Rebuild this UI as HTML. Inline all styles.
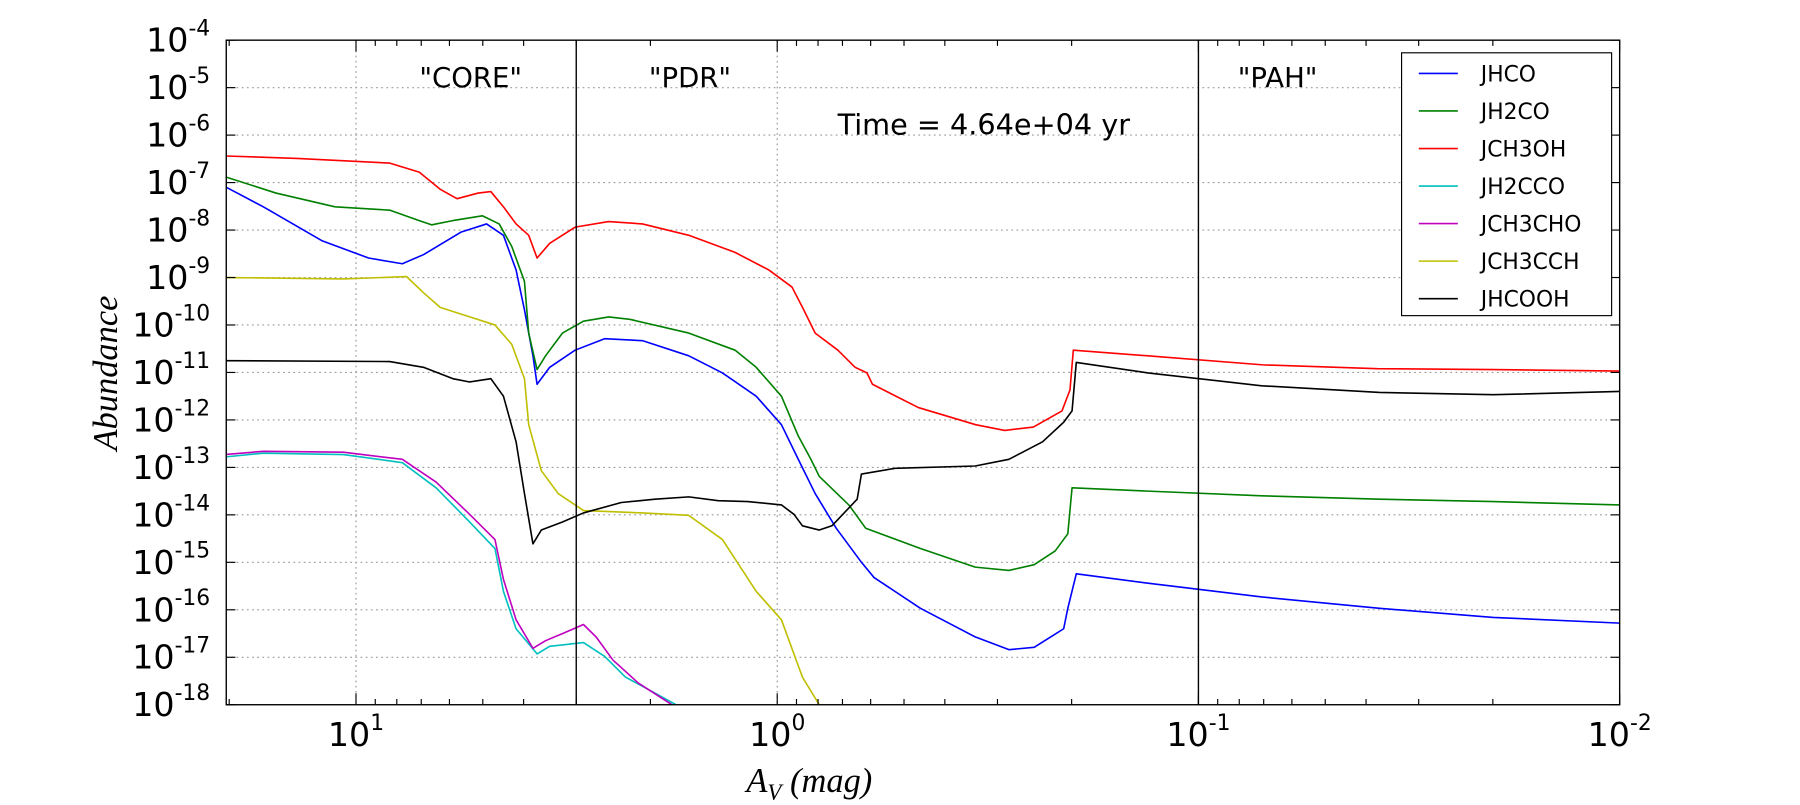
<!DOCTYPE html>
<html><head><meta charset="utf-8"><style>
body{margin:0;background:#fff;width:1800px;height:800px;overflow:hidden}
svg text{font-family:"DejaVu Sans","Liberation Sans",sans-serif}
</style></head><body>
<svg id="chart" width="1800" height="800" viewBox="0 0 1568 697" xmlns="http://www.w3.org/2000/svg">
<defs><clipPath id="clip"><rect x="197" y="35" width="1214" height="579"/></clipPath></defs>
<g id="grid"></g>
<g id="series" clip-path="url(#clip)"></g>
<g id="axes"></g>
<text x="410" y="76" font-size="24" text-anchor="middle">"CORE"</text>
<text x="601" y="76" font-size="24" text-anchor="middle">"PDR"</text>
<text x="1113" y="76" font-size="24" text-anchor="middle">"PAH"</text>
<text x="857" y="117" font-size="25" text-anchor="middle">Time = 4.64e+04 yr</text>
<text x="705" y="690" font-size="30" text-anchor="middle" style="font-family:'Liberation Serif',serif;font-style:italic">A<tspan font-size="20" dy="7">V</tspan><tspan dy="-7"> (mag)</tspan></text>
<text transform="translate(102,325) rotate(-90)" font-size="30" text-anchor="middle" style="font-family:'Liberation Serif',serif;font-style:italic">Abundance</text>
<g id="legend"></g>
</svg>
<script>
const seriesNames=["JHCO","JH2CO","JCH3OH","JH2CCO","JCH3CHO","JCH3CCH","JHCOOH"];
const seriesColors=["#0000ff","#008000","#ff0000","#00bfbf","#bf00bf","#bfbf00","#000000"];
const yTickExps=[-4,-5,-6,-7,-8,-9,-10,-11,-12,-13,-14,-15,-16,-17,-18];
const xTickExps=[1,0,-1,-2];
const regionBoundaries=[3,0.1];
// data stored as log10(A_V) and log10(abundance)
const hcoX=[1.31,1.22,1.08,0.97,0.89,0.84,0.75,0.69,0.65,0.62,0.60,0.58,0.57,0.54,0.48,0.41,0.32,0.21,0.13,0.05,-0.01,-0.05,-0.09,-0.14,-0.20,-0.23,-0.34,-0.47,-0.55,-0.61,-0.68,-0.69,-0.71,-0.88,-1.15,-1.43,-1.70,-2.0];
const hcoY=[-7.09,-7.51,-8.23,-8.59,-8.71,-8.52,-8.04,-7.87,-8.11,-8.84,-9.68,-10.65,-11.25,-10.89,-10.53,-10.29,-10.33,-10.65,-11.01,-11.50,-12.10,-12.83,-13.55,-14.28,-15.00,-15.32,-15.97,-16.57,-16.84,-16.79,-16.40,-15.97,-15.24,-15.44,-15.73,-15.97,-16.16,-16.28];
const h2coX=[1.31,1.19,1.05,0.92,0.85,0.82,0.77,0.70,0.66,0.63,0.60,0.59,0.57,0.55,0.51,0.46,0.40,0.35,0.21,0.10,0.05,-0.01,-0.05,-0.08,-0.10,-0.17,-0.21,-0.34,-0.47,-0.55,-0.61,-0.66,-0.69,-0.70,-0.88,-1.15,-1.43,-1.70,-2.0];
const h2coY=[-6.88,-7.22,-7.51,-7.58,-7.80,-7.89,-7.80,-7.70,-7.87,-8.35,-9.08,-10.17,-10.94,-10.65,-10.17,-9.92,-9.83,-9.88,-10.17,-10.53,-10.89,-11.50,-12.34,-12.83,-13.19,-13.79,-14.28,-14.71,-15.10,-15.17,-15.05,-14.76,-14.40,-13.43,-13.50,-13.60,-13.67,-13.72,-13.79];
const ch3ohX=[1.31,1.14,0.92,0.85,0.80,0.76,0.71,0.68,0.65,0.62,0.59,0.57,0.54,0.48,0.40,0.32,0.21,0.10,0.02,-0.035,-0.063,-0.09,-0.144,-0.185,-0.213,-0.226,-0.335,-0.471,-0.54,-0.608,-0.676,-0.695,-0.703,-0.88,-1.153,-1.425,-1.698,-2.0];
const ch3ohY=[-6.44,-6.49,-6.59,-6.78,-7.14,-7.34,-7.22,-7.19,-7.51,-7.87,-8.11,-8.59,-8.28,-7.94,-7.82,-7.87,-8.11,-8.47,-8.84,-9.20,-9.68,-10.17,-10.53,-10.89,-11.01,-11.25,-11.74,-12.10,-12.22,-12.15,-11.81,-11.37,-10.53,-10.65,-10.84,-10.92,-10.94,-10.97];
const h2ccoX=[1.31,1.22,1.03,0.89,0.81,0.73,0.67,0.65,0.62,0.57,0.54,0.46,0.41,0.36,0.32,0.24];
const h2ccoY=[-12.78,-12.70,-12.73,-12.90,-13.43,-14.15,-14.71,-15.61,-16.40,-16.93,-16.77,-16.69,-16.98,-17.42,-17.61,-18.0];
const ch3choX=[1.31,1.22,1.03,0.89,0.81,0.73,0.67,0.65,0.62,0.58,0.55,0.51,0.46,0.43,0.39,0.33,0.25];
const ch3choY=[-12.73,-12.66,-12.68,-12.83,-13.31,-13.99,-14.52,-15.36,-16.21,-16.81,-16.65,-16.50,-16.31,-16.57,-17.06,-17.54,-18.0];
const ch3cchX=[1.31,1.03,0.88,0.84,0.80,0.73,0.67,0.63,0.60,0.59,0.56,0.52,0.46,0.37,0.32,0.21,0.13,0.05,-0.01,-0.06,-0.10];
const ch3cchY=[-9.00,-9.03,-8.98,-9.32,-9.63,-9.83,-10.00,-10.41,-11.13,-12.10,-13.07,-13.55,-13.91,-13.94,-13.96,-14.01,-14.52,-15.61,-16.21,-17.42,-18.0];
const hcoohX=[1.31,0.92,0.84,0.77,0.73,0.68,0.65,0.62,0.60,0.58,0.56,0.51,0.46,0.37,0.29,0.21,0.14,0.07,-0.01,-0.04,-0.06,-0.10,-0.13,-0.19,-0.20,-0.28,-0.47,-0.55,-0.63,-0.68,-0.70,-0.71,-0.88,-1.15,-1.43,-1.70,-2.0];
const hcoohY=[-10.75,-10.77,-10.89,-11.13,-11.20,-11.13,-11.50,-12.46,-13.55,-14.61,-14.32,-14.15,-13.96,-13.74,-13.67,-13.62,-13.70,-13.72,-13.79,-13.99,-14.23,-14.32,-14.23,-13.67,-13.14,-13.02,-12.97,-12.83,-12.46,-12.05,-11.81,-10.79,-11.01,-11.28,-11.42,-11.47,-11.40];
const seriesX=[hcoX,h2coX,ch3ohX,h2ccoX,ch3choX,ch3cchX,hcoohX];
const seriesY=[hcoY,h2coY,ch3ohY,h2ccoY,ch3choY,ch3cchY,hcoohY];

const L=197,R=1411,T=35,B=614;
const xMax=1.308,xMin=-2;
const xs=lx=>L+(xMax-lx)/(xMax-xMin)*(R-L);
const ys=ly=>T+(-4-ly)/14*(B-T);
const NS="http://www.w3.org/2000/svg";
function mk(tag,attrs,parent){const e=document.createElementNS(NS,tag);for(const k in attrs)e.setAttribute(k,attrs[k]);parent.appendChild(e);return e;}
const grid=document.getElementById('grid'),axes=document.getElementById('axes'),ser=document.getElementById('series'),leg=document.getElementById('legend');
yTickExps.forEach(e=>{
  const y=ys(e);
  if(e!==-4&&e!==-18){const g=mk('line',{x1:L,x2:R,y1:y,y2:y,stroke:'#999','stroke-dasharray':'1.5,3','stroke-width':1},grid);
  
  }
  mk('line',{x1:L,x2:L+8,y1:y,y2:y,stroke:'#000'},axes);
  mk('line',{x1:R,x2:R-8,y1:y,y2:y,stroke:'#000'},axes);
  const t=mk('text',{x:183,y:y+10,'font-size':29,'text-anchor':'end'},axes);
  
  
  t.innerHTML='10<tspan font-size="19" dy="-14">'+(e<0?'-':'')+Math.abs(e)+'</tspan>';
});
xTickExps.forEach(e=>{
  const x=xs(e);
  if(e!==-2){const g=mk('line',{x1:x,x2:x,y1:T,y2:B,stroke:'#999','stroke-dasharray':'1.5,3'},grid);
  
  }
  mk('line',{x1:x,x2:x,y1:B,y2:B-10,stroke:'#000'},axes);
  mk('line',{x1:x,x2:x,y1:T,y2:T+10,stroke:'#000'},axes);
  const t=mk('text',{x:x,y:650,'font-size':29,'text-anchor':'middle'},axes);
  
  
  t.innerHTML='10<tspan font-size="19" dy="-14">'+(e<0?'-':'')+Math.abs(e)+'</tspan>';
});
for(let d=-3;d<=1;d++)for(let m=2;m<=9;m++){
  const lx=d+Math.log10(m);if(lx>xMax||lx<xMin)continue;const x=xs(lx);
  mk('line',{x1:x,x2:x,y1:B,y2:B-5,stroke:'#000'},axes);
  mk('line',{x1:x,x2:x,y1:T,y2:T+5,stroke:'#000'},axes);
}
regionBoundaries.forEach(v=>{const x=xs(Math.log10(v));
  const l=mk('line',{x1:x,x2:x,y1:T,y2:B,stroke:'#000','stroke-width':1.2},axes);
  
  });
const fr=mk('rect',{x:L,y:T,width:R-L,height:B-T,fill:'none',stroke:'#000','stroke-width':1.2},axes);


seriesNames.forEach((n,i)=>{
  const pts=seriesX[i].map((v,j)=>xs(v).toFixed(1)+','+ys(seriesY[i][j]).toFixed(1)).join(' ');
  const p=mk('polyline',{points:pts,fill:'none',stroke:seriesColors[i],'stroke-width':1.4,'stroke-linejoin':'round'},ser);
  
  
});
const lb=mk('rect',{x:1221,y:46,width:183,height:229,fill:'#fff',stroke:'#000','stroke-width':1},leg);


seriesNames.forEach((n,i)=>{
  const y=64+i*32.7;
  const g=mk('g',{},leg);
  
  
  mk('line',{x1:1236,x2:1270,y1:y,y2:y,stroke:seriesColors[i],'stroke-width':1.4},g);
  const t=mk('text',{x:1290,y:y+7,'font-size':19},g);t.textContent=n;
});
</script>
</body></html>
